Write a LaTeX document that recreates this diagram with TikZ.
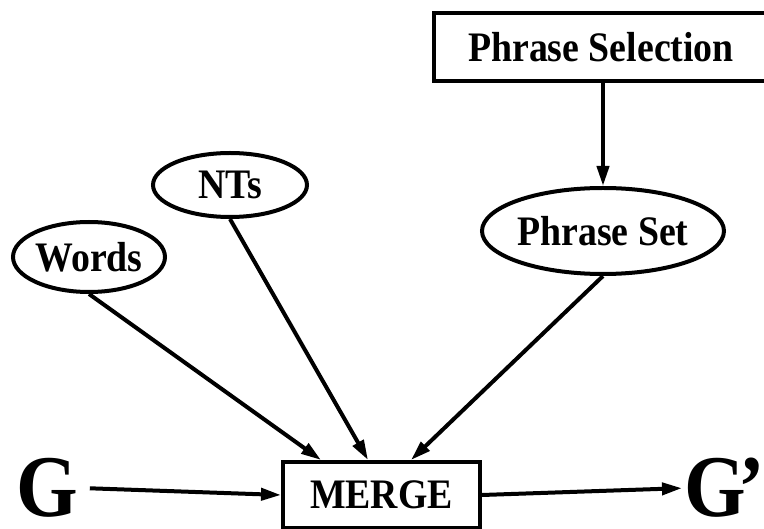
\documentclass[tikz,border=0pt]{standalone}
\usepackage{fontspec}
\setmainfont{Liberation Serif}[FakeStretch=0.9]
\usetikzlibrary{arrows.meta, positioning, shapes.geometric}

\begin{document}
\begin{tikzpicture}[x=1pt, y=-1pt, line width=4pt, >={Triangle[length=20pt, width=12pt]},
    font=\bfseries\fontsize{42}{44}\selectfont]
        % Merging a grammar with selected phrases
        \useasboundingbox (0,0) rectangle (764,529);
        \node[draw, rectangle, minimum width=334pt, minimum height=68pt] (sel) at (601,47) {Phrase Selection};
        \node[draw, ellipse, inner sep=0pt, minimum width=224pt, minimum height=86pt] (set) at (603,231) {Phrase Set};
        \node[draw, ellipse, inner sep=0pt, minimum width=154pt, minimum height=64pt] (nts) at (230,185) {NTs};
        \node[draw, ellipse, inner sep=0pt, minimum width=152pt, minimum height=70pt] (words) at (89,257) {Words};
        \node[draw, rectangle, minimum width=197pt, minimum height=66pt] (merge) at (381.5,495) {MERGE};
        \node[inner sep=0pt, anchor=base, font=\bfseries\fontsize{88}{90}\selectfont] (g) at (47,517) {G};
        \node[inner sep=0pt, anchor=base west, font=\bfseries\fontsize{88}{90}\selectfont] (gp) at (682,517) {G\kern-7pt’};
        
        \draw[->] (set.north |- sel.south) -- (set.north);
        \draw[->] (words.south) -- ([xshift=40pt]merge.north west);
        \draw[->] (nts.south) -- ([xshift=87pt]merge.north west);
        \draw[->] (set.south) -- ([xshift=130pt]merge.north west);
        \draw[->] ([xshift=10pt]g.east) -- (merge.west);
        \draw[->] (merge.east) -- (gp.west);
    \end{tikzpicture}
\end{document}
